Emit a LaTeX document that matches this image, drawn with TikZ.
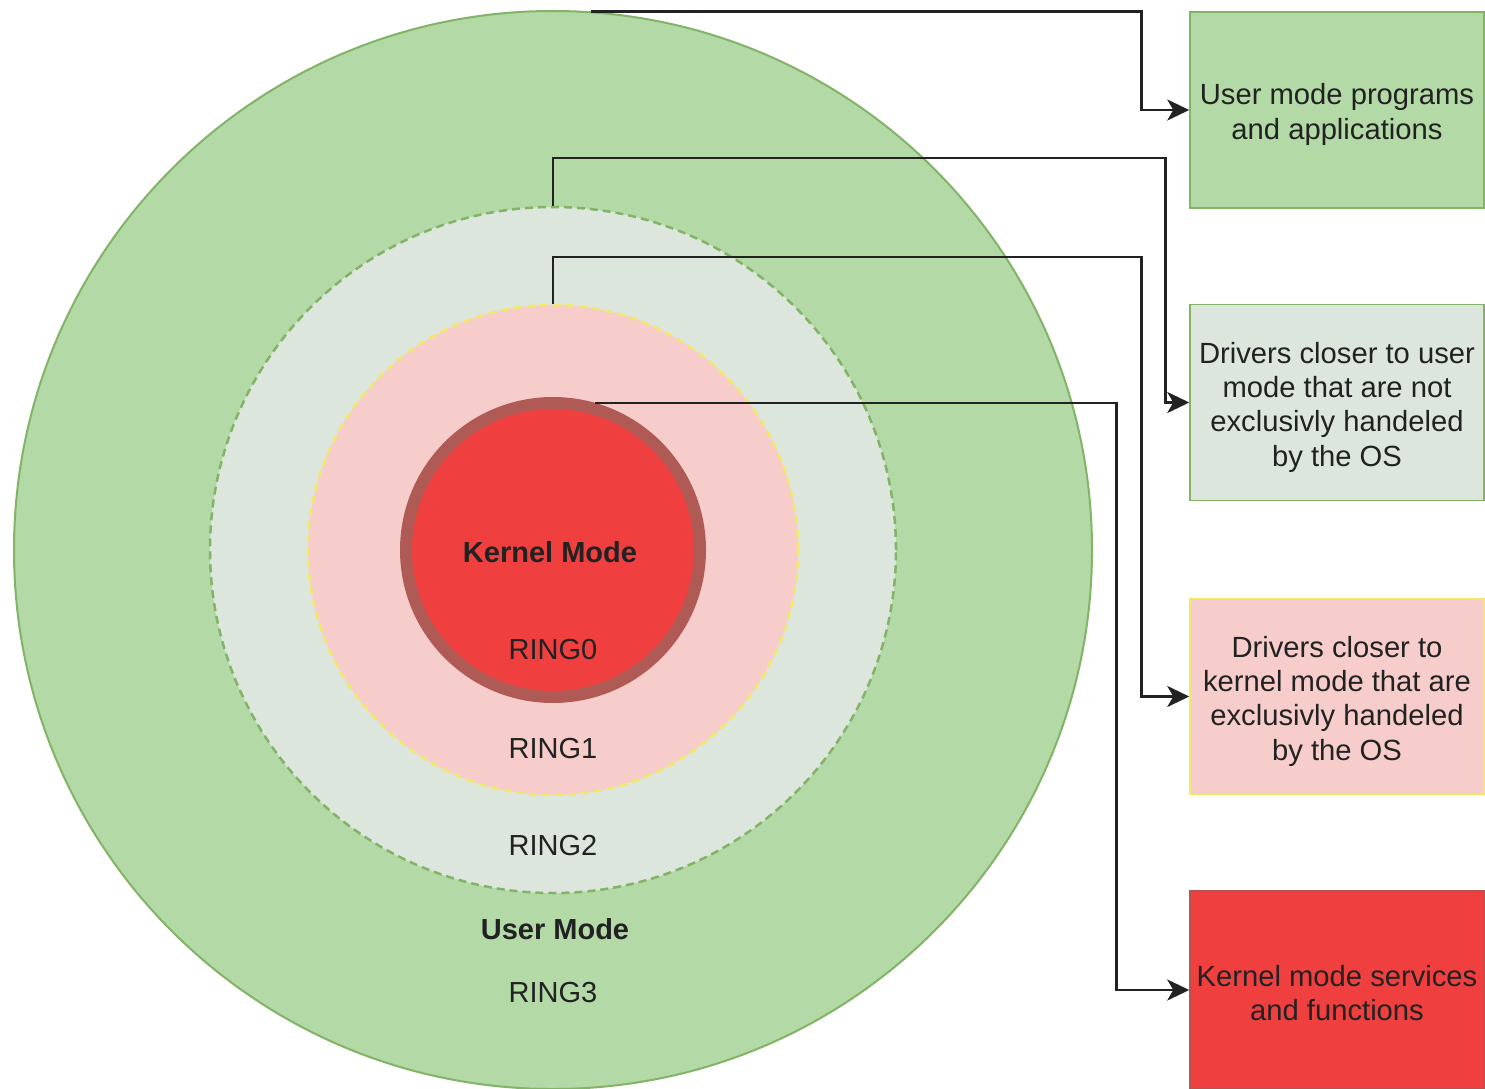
\documentclass[tikz,border=0pt]{standalone}
\usepackage{fontspec}
\setmainfont{Liberation Sans}
\usetikzlibrary{arrows.meta}
\definecolor{gfill}{HTML}{B2D9A6}
\definecolor{gdraw}{HTML}{82B366}
\definecolor{rtwofill}{HTML}{DCE6DD}
\definecolor{ronefill}{HTML}{F7CDCB}
\definecolor{ydraw}{HTML}{F2E86A}
\definecolor{kfill}{HTML}{EF3F3F}
\definecolor{kdraw}{HTML}{B05A56}
\definecolor{bdraw}{HTML}{B85450}
\definecolor{ink}{HTML}{222222}
\begin{document}
\begin{tikzpicture}[x=1pt,y=-1pt,
 ring/.style={circle,inner sep=0pt},
 lbl/.style={font=\fontsize{29}{34}\selectfont,text=ink,anchor=base,inner sep=0pt},
 blbl/.style={font=\fontsize{29}{34}\selectfont\bfseries,text=ink,anchor=base,inner sep=0pt},
 box/.style={rectangle,minimum width=294pt,minimum height=196pt,inner sep=0pt,line width=1.5pt},
 boxtxt/.style={inner sep=0pt,align=center,font=\fontsize{29.2}{34.3}\selectfont,text=ink},
 conn/.style={draw=ink,line width=2.5pt,-{Stealth[length=22pt,width=21pt,inset=6pt]}}]
\useasboundingbox (0,0) rectangle (1485,1089);
% rings
\node[ring,minimum size=1078pt,fill=gfill,draw=gdraw,line width=2pt] (outer) at (553,550) {};
\node[ring,minimum size=686pt,fill=rtwofill,draw=gdraw,line width=2.5pt,dash pattern=on 8pt off 5pt] (ring2) at (553,550) {};
\node[ring,minimum size=490pt,fill=ronefill,draw=ydraw,line width=2.5pt,dash pattern=on 8pt off 5pt] (ring1) at (553,550) {};
\node[ring,minimum size=294pt,fill=kfill,draw=kdraw,line width=12pt] (ring0) at (553,550) {};
% labels
\node[blbl] (km) at (550,562) {Kernel Mode};
\node[lbl] (r0) at (553,659.5) {RING0};
\node[lbl] (r1) at (553,758.5) {RING1};
\node[lbl] (r2) at (553,855.5) {RING2};
\node[blbl] (um) at (555,939.5) {User Mode};
\node[lbl] (r3) at (553,1002.5) {RING3};
% boxes
\node[box,fill=gfill,draw=gdraw] (b1) at (1337,110) {};
\node[box,fill=rtwofill,draw=gdraw] (b2) at (1337,402.5) {};
\node[box,fill=ronefill,draw=ydraw] (b3) at (1337,696.5) {};
\node[box,minimum height=198pt,fill=kfill,draw=bdraw] (b4) at (1337,990) {};
\node[boxtxt] (t1) at ([yshift=-4.5pt]b1.center) {User mode programs\\and applications};
\node[boxtxt] (t2) at ([yshift=-4.5pt]b2.center) {Drivers closer to user\\mode that are not\\exclusivly handeled\\by the OS};
\node[boxtxt] (t3) at ([yshift=-4.5pt]b3.center) {Drivers closer to\\kernel mode that are\\exclusivly handeled\\by the OS};
\node[boxtxt] (t4) at ([yshift=-3pt]b4.center) {Kernel mode services\\and functions};
% connectors
\draw[conn] (outer.86) -| ([xshift=-48pt]b1.west) -- (b1.west);
\draw[conn] (ring2.north) -- ++(0,-48) -| ([xshift=-24pt]b2.west) -- (b2.west);
\draw[conn] (ring1.north) -- ++(0,-47) -| ([xshift=-48pt]b3.west) -- (b3.west);
\draw[conn] (ring0.74) -| ([xshift=-73pt]b4.west) -- (b4.west);
\end{tikzpicture}
\end{document}
